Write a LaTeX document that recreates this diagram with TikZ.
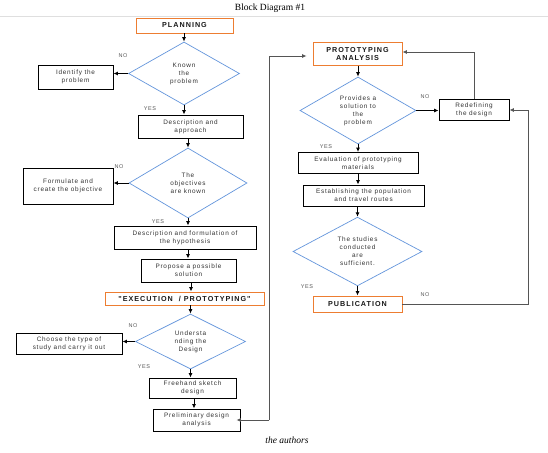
\documentclass[tikz,border=0pt]{standalone}
\usepackage{fontspec}
\setmainfont{Liberation Serif}
\newfontfamily\arial{Liberation Sans}[LetterSpace=12]
\newfontfamily\arialh{Liberation Sans}[LetterSpace=14]
\usetikzlibrary{shapes.geometric,arrows.meta}
\definecolor{orangeb}{RGB}{237,125,49}
\definecolor{blued}{RGB}{100,150,220}
\definecolor{lnk}{RGB}{85,85,85}
\tikzset{
  box/.style={draw=black,line width=0.9pt,rectangle,inner sep=0pt,align=center,text=black!80,font=\arial\fontsize{6.4}{8}\selectfont},
  hbox/.style={draw=orangeb,line width=0.9pt,rectangle,inner sep=0pt,align=center,text=black!90,font=\arialh\bfseries\fontsize{7.2}{8.6}\selectfont},
  dia/.style={draw=blued,line width=0.7pt,diamond,inner sep=0pt,align=center,text=black!80,font=\arial\fontsize{6.4}{8}\selectfont},
  lbl/.style={font=\arial\fontsize{5.5}{6}\selectfont,text=black!65,inner sep=0pt},
  arr/.style={-{Latex[length=4.5pt,width=4pt]},line width=0.9pt,black},
  lk/.style={line width=0.8pt,lnk},
  lka/.style={lk,-{Latex[length=4.5pt,width=4pt]}},
}
\begin{document}
\begin{tikzpicture}[x=1pt,y=-1pt]
\useasboundingbox (0,0) rectangle (548,452);
\fill[white] (0,0) rectangle (548,452);
\draw[gray!25,line width=0.4pt] (0,16) -- (548,16);
\node[font=\fontsize{9.5}{11}\selectfont] (title) at (270,8) {Block Diagram \#1};
\node[font=\itshape\fontsize{9.5}{11}\selectfont] (src) at (287,440) {the authors};

% left column
\node[hbox,minimum width=97pt,minimum height=15pt] (plan) at (184.5,25.5) {PLANNING};
\node[dia,minimum width=111pt,minimum height=63pt] (d1) at (184,73.5) {Known\\the\\problem};
\node[box,minimum width=75pt,minimum height=24pt] (ident) at (75.5,77) {Identify the\\problem};
\node[box,minimum width=105pt,minimum height=23pt] (desc) at (190.5,126.5) {Description and\\approach};
\node[dia,minimum width=118pt,minimum height=70pt] (d2) at (188,183) {The\\objectives\\are known};
\node[box,minimum width=90pt,minimum height=36pt] (form) at (68,186) {Formulate and\\create the objective};
\node[box,minimum width=142pt,minimum height=23pt] (hyp) at (185,237.5) {Description and formulation of\\the hypothesis};
\node[box,minimum width=95pt,minimum height=23pt] (prop) at (188.5,270.5) {Propose a possible\\solution};
\node[hbox,minimum width=159pt,minimum height=13pt] (exec) at (184.5,298.5) {"EXECUTION \ / PROTOTYPING"};
\node[dia,minimum width=110pt,minimum height=55pt] (d3) at (190.5,341.5) {Understa\\nding the\\Design};
\node[box,minimum width=106pt,minimum height=21pt] (choose) at (69,343.5) {Choose the type of\\study and carry it out};
\node[box,minimum width=87pt,minimum height=20pt] (sketch) at (192.5,388) {Freehand sketch\\design};
\node[box,minimum width=87pt,minimum height=22pt] (prelim) at (196.5,420) {Preliminary design\\analysis};

% right column
\node[hbox,minimum width=89pt,minimum height=23pt] (proto) at (357.5,54) {PROTOTYPING\\ANALYSIS};
\node[dia,minimum width=116pt,minimum height=67pt] (d4) at (358,110.5) {Provides a\\solution to\\the\\problem};
\node[box,minimum width=70pt,minimum height=21pt] (redef) at (474,109.5) {Redefining\\the design};
\node[box,minimum width=120pt,minimum height=21pt] (eval) at (358,163) {Evaluation of prototyping\\materials};
\node[box,minimum width=121pt,minimum height=21pt] (estab) at (363.5,195.5) {Establishing the population\\and travel routes};
\node[dia,minimum width=129pt,minimum height=68pt] (d5) at (357.5,251.5) {The studies\\conducted\\are\\sufficient.};
\node[hbox,minimum width=89pt,minimum height=16pt] (pub) at (357.5,304) {PUBLICATION};

% labels
\node[lbl] (n1) at (123,56) {NO};
\node[lbl] (y1) at (150,109) {YES};
\node[lbl] (n2) at (119,167) {NO};
\node[lbl] (y2) at (158,222) {YES};
\node[lbl] (n3) at (133,326) {NO};
\node[lbl] (y3) at (144,367) {YES};
\node[lbl] (n4) at (425,97) {NO};
\node[lbl] (y4) at (326,147) {YES};
\node[lbl] (y5) at (307,287) {YES};
\node[lbl] (n5) at (425,295) {NO};

% coordinates for bends
\coordinate (c1) at (269,420);
\coordinate (c2) at (269,56);
\coordinate (c3) at (474,52);
\coordinate (c4) at (528,304);
\coordinate (c5) at (528,110);

% connectors
\draw[arr] (plan.south -| d1.north) -- (d1.north);
\draw[arr] (d1.west) -- (d1.west -| ident.east);
\draw[arr] (d1.south) -- (d1.south |- desc.north);
\draw[arr] (d2.north |- desc.south) -- (d2.north);
\draw[arr] (d2.west) -- (d2.west -| form.east);
\draw[arr] (d2.south) -- (d2.south |- hyp.north);
\draw[arr] (d2.south |- hyp.south) -- (d2.south |- prop.north);
\draw[arr] ([xshift=2.5pt]prop.south) -- ([xshift=2.5pt]prop.south |- exec.north);
\draw[arr] (d3.north |- exec.south) -- (d3.north);
\draw[arr] (d3.west) -- (d3.west -| choose.east);
\draw[arr] (d3.south) -- (d3.south |- sketch.north);
\draw[arr] ([xshift=1.5pt]sketch.south) -- ([xshift=1.5pt]sketch.south |- prelim.north);
\draw[lka] (c1) -- ([xshift=-4pt]prelim.east |- c1);
\draw[lka] (c1) -- (c2) -- ([xshift=-6pt]proto.west |- c2);

\draw[arr] (proto.south -| d4.north) -- (d4.north);
\draw[arr] (d4.east) -- (d4.east -| redef.west);
\draw[lka] (redef.north) -- (c3) -- (c3 -| proto.east);
\draw[arr] (d4.south) -- (d4.south |- eval.north);
\draw[arr] (d4.south |- eval.south) -- (d4.south |- estab.north);
\draw[arr] (d5.north |- estab.south) -- (d5.north);
\draw[arr] (d5.south) -- (d5.south |- pub.north);
\draw[lka] (pub.east) -- (c4) -- (c5) -- (c5 -| redef.east);
\end{tikzpicture}
\end{document}
